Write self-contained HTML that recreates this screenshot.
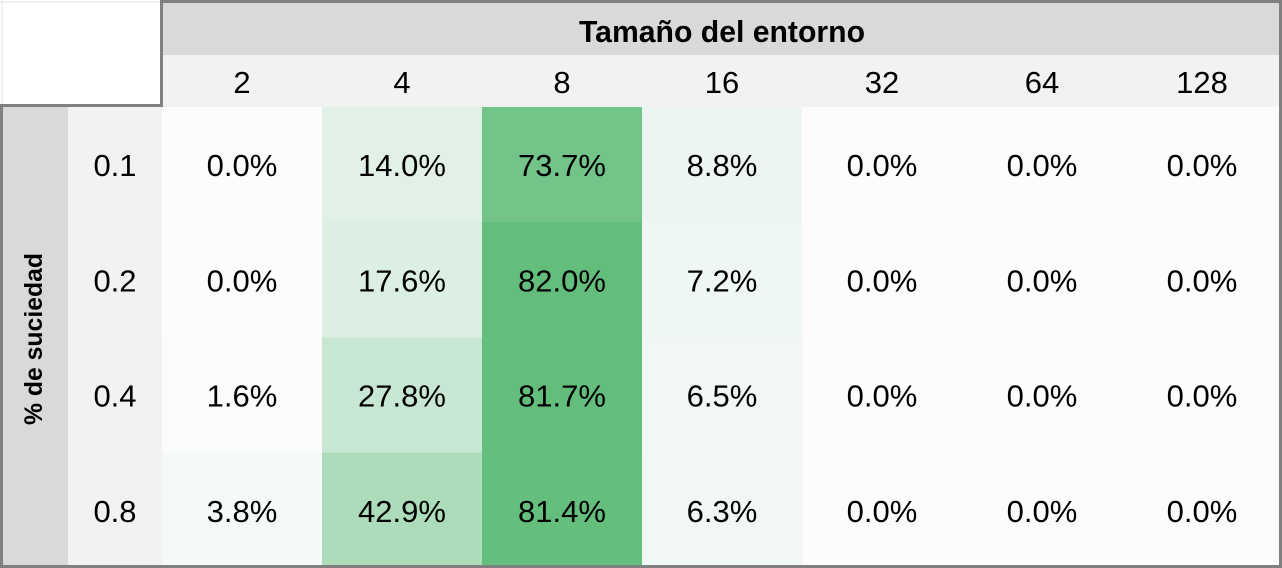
<!DOCTYPE html>
<html><head><meta charset="utf-8"><style>
html,body{margin:0;padding:0;background:#fff;}
svg{display:block;font-family:"Liberation Sans",sans-serif;}
</style></head><body>
<svg id="chart" width="1282" height="568" viewBox="0 0 1282 568" xmlns="http://www.w3.org/2000/svg">
<line x1="0" y1="2" x2="160" y2="2" stroke="#e0e0e0" stroke-width="1"/>
<line x1="2" y1="0" x2="2" y2="105" stroke="#e0e0e0" stroke-width="1"/>
<rect x="162" y="0" width="1120" height="55" fill="#d9d9d9"/>
<rect x="162" y="55" width="1120" height="52" fill="#f2f2f2"/>
<rect x="0" y="107" width="68" height="461" fill="#d9d9d9"/>
<rect x="68" y="107" width="94" height="461" fill="#f2f2f2"/>
<text x="722" y="42" text-anchor="middle" font-size="31" font-weight="bold" textLength="286" lengthAdjust="spacingAndGlyphs">Tamaño del entorno</text>
<text transform="translate(42,339) rotate(-90)" text-anchor="middle" font-size="25" font-weight="bold" textLength="172" lengthAdjust="spacingAndGlyphs">% de suciedad</text>
<g id="cells"></g>
<g id="labels"></g>
<path d="M161.5,105.5 V1.5 H1280.5 V566.5 H1.5 V105.5 Z" fill="none" stroke="#808080" stroke-width="3"/>
</svg>
<script>
const columns = ["2","4","8","16","32","64","128"];
const rows = ["0.1","0.2","0.4","0.8"];
const values = [
  [0.0,14.0,73.7,8.8,0.0,0.0,0.0],
  [0.0,17.6,82.0,7.2,0.0,0.0,0.0],
  [1.6,27.8,81.7,6.5,0.0,0.0,0.0],
  [3.8,42.9,81.4,6.3,0.0,0.0,0.0]
];
const NS="http://www.w3.org/2000/svg";
const x0=162, colW=160, y0=107, rowH=115.25;
const xPos=i=>x0+i*colW;
const yPos=j=>y0+j*rowH;
let maxV=0; values.forEach(r=>r.forEach(v=>{if(v>maxV)maxV=v;}));
function color(v){
  const t=maxV?v/maxV:0;
  const a=[252,252,255], b=[99,190,123];
  return "rgb("+a.map((c,k)=>Math.round(c+(b[k]-c)*t)).join(",")+")";
}
const FS="31";
const cells=document.getElementById("cells"), labels=document.getElementById("labels");
columns.forEach((c,i)=>{
  const t=document.createElementNS(NS,"text");
  
  
  t.setAttribute("x",xPos(i)+colW/2);t.setAttribute("y",93);
  t.setAttribute("text-anchor","middle");t.setAttribute("font-size",FS);
  t.textContent=c;labels.appendChild(t);
});
rows.forEach((r,j)=>{
  const t=document.createElementNS(NS,"text");
  
  
  t.setAttribute("x",115);t.setAttribute("y",yPos(j)+rowH/2+11.5);
  t.setAttribute("text-anchor","middle");t.setAttribute("font-size",FS);
  t.textContent=r;labels.appendChild(t);
  values[j].forEach((v,i)=>{
    const rc=document.createElementNS(NS,"rect");
    
    
    rc.setAttribute("x",xPos(i));rc.setAttribute("y",yPos(j));
    rc.setAttribute("width",colW);rc.setAttribute("height",rowH+0.5);
    rc.setAttribute("fill",color(v));cells.appendChild(rc);
    const tv=document.createElementNS(NS,"text");
    
    
    tv.setAttribute("x",xPos(i)+colW/2);tv.setAttribute("y",yPos(j)+rowH/2+11.5);
    tv.setAttribute("text-anchor","middle");tv.setAttribute("font-size",FS);
    tv.textContent=v.toFixed(1)+"%";labels.appendChild(tv);
  });
});
</script>
</body></html>
